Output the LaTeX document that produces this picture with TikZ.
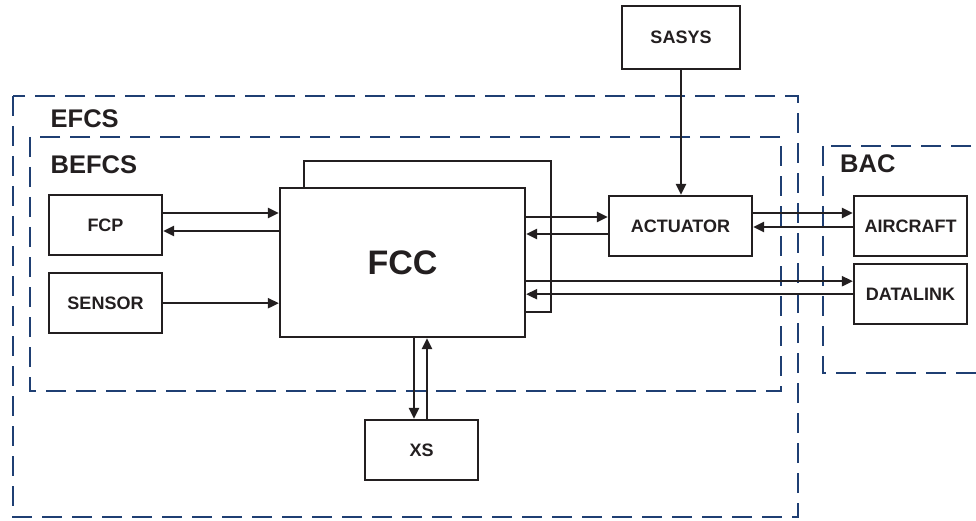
\documentclass[tikz,border=0pt]{standalone}
\usepackage{fontspec}
\setmainfont{Liberation Sans}
\usetikzlibrary{arrows.meta,positioning}
\definecolor{framenavy}{RGB}{31,63,115}
\definecolor{inkgrey}{RGB}{35,31,32}

\begin{document}
\begin{tikzpicture}[
        x=1pt, y=-1pt
        , unit/.style={
             rectangle
            , draw=inkgrey
            , line width=2.2pt
            , fill=white
            , text=inkgrey
            , align=center
            , minimum width=113pt
            , minimum height=60pt
            , font=\bfseries\fontsize{18}{20}\selectfont
        }
        , link/.style={
             draw=inkgrey
            , line width=2.2pt
            , -{Triangle[length=11pt,width=10pt]}
        }
        , zone/.style={
             draw=framenavy
            , line width=2.6pt
            , dash pattern=on 20pt off 10pt
        }
        , zonename/.style={
             anchor=base west
            , inner sep=0pt
            , text=inkgrey
            , font=\bfseries\fontsize{25.5}{28}\selectfont
        }
        ]
        \useasboundingbox (0,0) rectangle (976,521);

        % dashed groups
        \draw[zone] (13,96) rectangle (798,517);
        \draw[zone] (30,137) rectangle (781,391);
        \draw[zone] (823,146) rectangle (1000,373);
        \node[zonename] (efcs) at (50.5,128) {EFCS};
        \node[zonename] (befcs) at (50.5,174) {BEFCS};
        \node[zonename] (bac) at (840,173) {BAC};

        \node[unit] (fcp) at (105.5,225) {FCP};
        \node[unit,below=16pt of fcp] (sensor) {SENSOR};
        \node[unit,minimum width=245pt,minimum height=149pt
            ,font=\bfseries\fontsize{34}{38}\selectfont] (fcc) at (402.5,262.5) {FCC};
        \node[unit] (xs) at (421.5,450) {XS};
        \node[unit,minimum width=143pt] (actuator) at (680.5,226) {ACTUATOR};
        \node[unit,minimum width=118pt,minimum height=63pt] (sasys) at (681,37.5) {SASYS};
        \node[unit] (aircraft) at (910.5,226) {AIRCRAFT};
        \node[unit,below=6pt of aircraft] (datalink) {DATALINK};

        % second FCC channel
        \draw[draw=inkgrey,line width=2.2pt] ([xshift=25pt]fcc.north west)
            |- ([xshift=25pt,yshift=26pt]fcc.north east)
            |- ([yshift=26pt]fcc.south east);

        \draw[link] ([yshift=12pt]fcp.east) -- ([yshift=12pt]fcp.east -| fcc.west);
        \draw[link] ([yshift=-6pt]fcc.west |- fcp.east) -- ([yshift=-6pt]fcp.east);
        \draw[link] (sensor.east) -- (sensor.east -| fcc.west);

        \draw[link] ([yshift=9pt]fcc.east |- actuator.west) -- ([yshift=9pt]actuator.west);
        \draw[link] ([yshift=-8pt]actuator.west) -- ([yshift=-8pt]fcc.east |- actuator.west);
        \draw[link] (sasys.south) -- (sasys.south |- actuator.north);

        \draw[link] ([yshift=13pt]actuator.east) -- ([yshift=13pt]actuator.east -| aircraft.west);
        \draw[link] ([yshift=-1pt]aircraft.west) -- ([yshift=-1pt]aircraft.west -| actuator.east);
        \draw[link] ([yshift=13pt]fcc.east |- datalink.west) -- ([yshift=13pt]datalink.west);
        \draw[link] (datalink.west) -- (datalink.west -| fcc.east);

        \draw[link] ([xshift=-7.5pt]xs.north |- fcc.south) -- ([xshift=-7.5pt]xs.north);
        \draw[link] ([xshift=5.5pt]xs.north) -- ([xshift=5.5pt]xs.north |- fcc.south);
    \end{tikzpicture}
\end{document}
